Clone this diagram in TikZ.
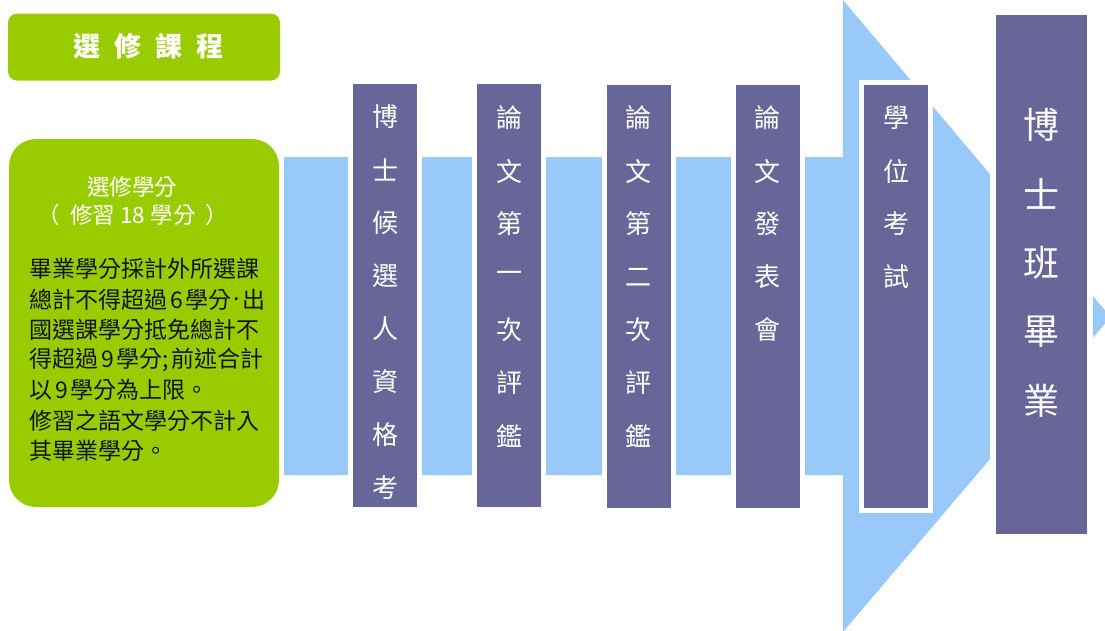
\documentclass[tikz,border=0pt]{standalone}
\usepackage{fontspec}
\setmainfont{Noto Sans CJK TC}
\definecolor{barpurple}{RGB}{104,101,152}
\definecolor{bandblue}{RGB}{153,201,249}
\definecolor{leafgreen}{RGB}{153,204,0}
\definecolor{bodyink}{RGB}{20,20,20}
\newcommand{\middot}{\hspace{2pt}\raisebox{0.32em}{.}\hspace{2pt}}
\tikzset{
  greenbox/.style={rectangle, fill=leafgreen, draw=none, inner sep=0},
  barbox/.style={rectangle, fill=barpurple, draw=white, line width=5pt, minimum width=69pt, minimum height=428pt, inner sep=0},
  endbox/.style={rectangle, fill=barpurple, draw=white, line width=6pt, minimum width=97pt, minimum height=525pt, inner sep=0},
  vchar/.style={text=white, font=\fontsize{26}{26}\selectfont, inner sep=0},
  bigchar/.style={text=white, font=\fontsize{36}{36}\selectfont, inner sep=0},
  bodyline/.style={text=bodyink, font=\fontsize{23}{23}\selectfont, inner sep=0, anchor=west},
  headline/.style={text=white, font=\fontsize{22.5}{22.5}\selectfont, inner sep=0},
}
\begin{document}
\begin{tikzpicture}[x=1pt,y=-1pt]
\useasboundingbox (0,0) rectangle (1105,630);
% band with big arrow head
\fill[bandblue] (284,157) -- (843,157) -- (843,0) -- (1110.6,317) -- (843,632) -- (843,475) -- (284,475) -- cycle;
% green boxes
\node[greenbox, rounded corners=9pt, minimum width=272pt, minimum height=67pt] (topbox) at (144,47) {};
\node[text=white, font=\fontsize{27}{27}\selectfont\bfseries, inner sep=0] (title) at (148.5,46.5) {選\hspace{14pt}修\hspace{14pt}課\hspace{14pt}程};
\node[greenbox, rounded corners=27pt, minimum width=270pt, minimum height=368pt] (leftbox) at (144,323) {};
\node[headline] (h1) at (132,187) {選修學分};
\node[headline] (h2) at (133,215) {（\hspace{10pt}修習 18 學分\hspace{10pt}）};
\foreach \t [count=\i] in {畢業學分採計外所選課,總計不得超過\hspace{3pt}6\hspace{3pt}學分\middot 出,國選課學分抵免總計不,得超過\hspace{3pt}9\hspace{3pt}學分;\hspace{2pt}前述合計,以\hspace{3pt}9\hspace{3pt}學分為上限。,修習之語文學分不計入,其畢業學分。}
  \node[bodyline] (line\i) at (29,{269+30.25*(\i-1)}) {\t};
% purple bars
\node[barbox] (bar1) at (385,295.5) {};
\node[barbox] (bar2) at (509,295.5) {};
\node[barbox] (bar3) at (638.5,296) {};
\node[barbox] (bar4) at (767.5,296) {};
\node[barbox] (bar5) at (896,296.5) {};
\node[endbox] (bar6) at (1041.5,274.5) {};
\foreach \c [count=\i] in {博,士,候,選,人,資,格,考}
  \node[vchar] (ba\i) at (385,{117+53*(\i-1)}) {\c};
\foreach \c [count=\i] in {論,文,第,一,次,評,鑑}
  \node[vchar] (bb\i) at (509,{118+53*(\i-1)}) {\c};
\foreach \c [count=\i] in {論,文,第,二,次,評,鑑}
  \node[vchar] (bc\i) at (638.5,{118+53*(\i-1)}) {\c};
\foreach \c [count=\i] in {論,文,發,表,會}
  \node[vchar] (bd\i) at (767.5,{118+53*(\i-1)}) {\c};
\foreach \c [count=\i] in {學,位,考,試}
  \node[vchar] (be\i) at (896,{118+53*(\i-1)}) {\c};
\foreach \c [count=\i] in {博,士,班,畢,業}
  \node[bigchar] (bf\i) at (1041.5,{125+69*(\i-1)}) {\c};
\end{tikzpicture}
\end{document}
